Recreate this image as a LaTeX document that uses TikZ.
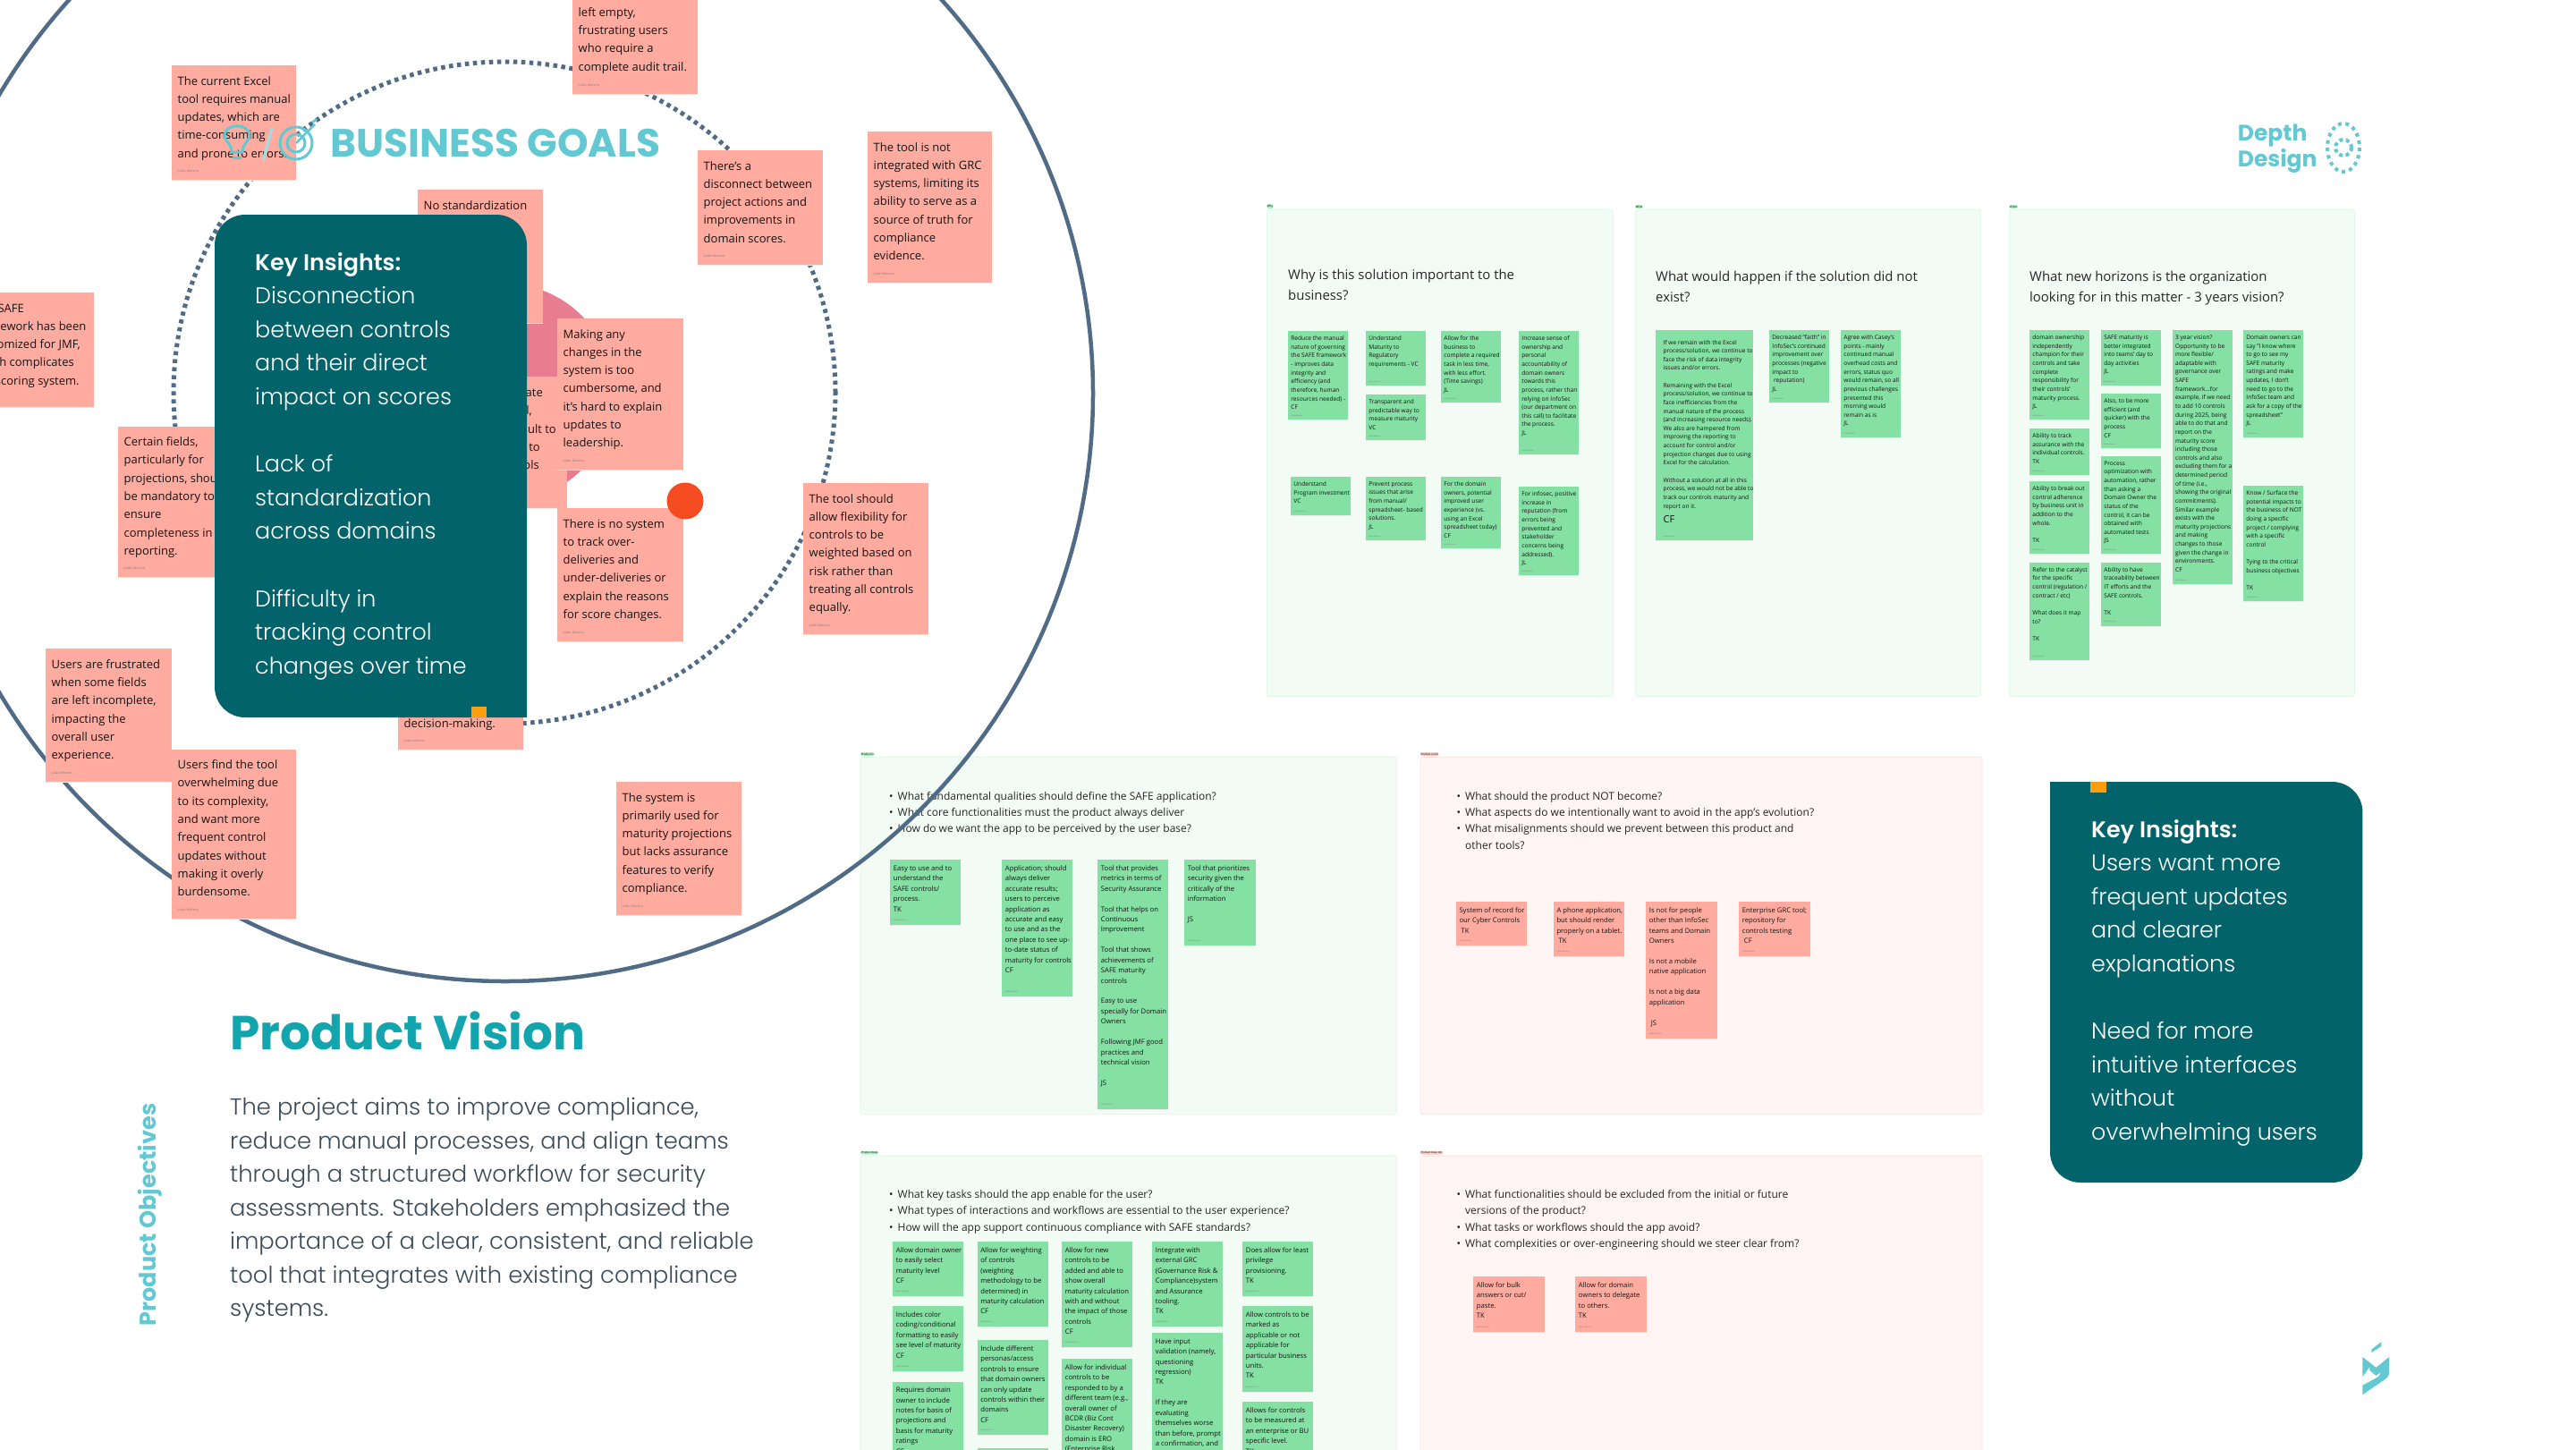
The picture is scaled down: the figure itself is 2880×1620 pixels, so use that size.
\documentclass[tikz,border=0pt]{standalone}
\usepackage{fontspec}
\setmainfont{Open Sans}
\newfontfamily\panelfont{Poppins}[UprightFont=* Light, BoldFont=* SemiBold]
\newfontfamily\headfont{Poppins}[UprightFont=* Medium, BoldFont=* Bold]
\usetikzlibrary{arrows.meta}

\definecolor{noteRed}{HTML}{FFABA0}
\definecolor{noteGreen}{HTML}{85E0A3}
\definecolor{frameGreen}{HTML}{F2FCF5}
\definecolor{edgeGreen}{HTML}{E2F8E8}
\definecolor{tagGreen}{HTML}{A9EFC0}
\definecolor{frameRed}{HTML}{FEF5F4}
\definecolor{edgeRed}{HTML}{FBE6E3}
\definecolor{tagRed}{HTML}{FFC6BF}
\definecolor{panelTeal}{HTML}{02646A}
\definecolor{logoCyan}{HTML}{62C8D2}
\definecolor{visionTeal}{HTML}{12A5AD}
\definecolor{ringBlue}{HTML}{4F6B85}
\definecolor{corePink}{HTML}{E87C91}
\definecolor{dotRed}{HTML}{F44B20}
\definecolor{markOrange}{HTML}{FF9F10}
\definecolor{bodyGrey}{HTML}{3A4A57}

\tikzset{
	frame base/.style = {rectangle, inner sep=0pt, anchor=north west, rounded corners=2pt, line width=0.8pt},
	green frame/.style = {frame base, fill=frameGreen, draw=edgeGreen},
	red frame/.style = {frame base, fill=frameRed, draw=edgeRed},
	tag base/.style = {anchor=south west, inner sep=0.7pt, rounded corners=1.5pt, yshift=1pt, font=\fontsize{3}{3}\selectfont},
	green tag/.style = {tag base, fill=tagGreen},
	red tag/.style = {tag base, fill=tagRed},
	card base/.style = {rectangle, inner sep=0pt, anchor=north west,
		preaction={fill=black!8, transform canvas={yshift=-1.2pt}}},
	red card/.style = {card base, fill=noteRed},
	green card/.style = {card base, fill=noteGreen},
	note base/.style = {anchor=north west, inner sep=0pt, align=left, text=black!92},
	big note/.style = {note base, xshift=6.5pt, yshift=-12pt, font=\fontsize{13}{20.3}\selectfont},
	big sign/.style = {anchor=west, inner sep=0pt, xshift=6.5pt, yshift=9.5pt, text=black!50, font=\fontsize{3.6}{4}\selectfont},
	mid note/.style = {note base, xshift=3.7pt, yshift=-6.3pt, font=\fontsize{7.7}{11.43}\selectfont},
	mid sign/.style = {anchor=west, inner sep=0pt, xshift=3.7pt, yshift=5.3pt, text=black!50, font=\fontsize{2.2}{3}\selectfont},
	top note/.style = {note base, xshift=3.2pt, yshift=-5.4pt, font=\fontsize{6.6}{9.63}\selectfont},
	top sign/.style = {anchor=west, inner sep=0pt, xshift=3.2pt, yshift=4.4pt, text=black!50, font=\fontsize{2}{3}\selectfont},
	wide note/.style = {top note, xshift=5.2pt, yshift=-5.4pt},
	wide sign/.style = {top sign, xshift=5.2pt},
	frame title/.style = {anchor=north west, inner sep=0pt, align=left, text=black!85, font=\fontsize{14.9}{23}\selectfont},
	frame list/.style = {anchor=north west, inner sep=0pt, align=left, text=black!85, font=\fontsize{12}{18.3}\selectfont},
	panel text/.style = {anchor=north west, inner sep=0pt, align=left, text=white, font=\panelfont\fontsize{25.4}{37.6}\selectfont},
}

% style colour, text size, name, left, top, width, height, text
\newcommand{\card}[8]{
	\node [#1 card, minimum width=#6pt, minimum height=#7pt] (#3) at (#4,#5) {};
	\node [#2 note] (#3 text) at (#3.north west) {#8};
	\node [#2 sign] (#3 sign) at (#3.south west) {Julián Moreno};
}
\newcommand{\bl}{\makebox[9.5pt][l]{\textbullet}}
\newcommand{\nb}{\hspace*{9.5pt}}

\begin{document}
\begin{tikzpicture}[x=1pt, y=-1pt]

	\useasboundingbox (0,0) rectangle (2880,1620);
	\clip (0,0) rectangle (2880,1620);
	\fill [white] (0,0) rectangle (2880,1620);

	% top row of frames
	\node [green frame, minimum width=387pt, minimum height=544pt] (why) at (1416,234) {};
	\node [green frame, minimum width=386pt, minimum height=544pt] (what) at (1828,234) {};
	\node [green frame, minimum width=386pt, minimum height=544pt] (vision) at (2246,234) {};
	\node [green tag] (why tag) at (why.north west) {Why};
	\node [green tag] (what tag) at (what.north west) {What};
	\node [green tag] (vision tag) at (vision.north west) {Vision};

	\node [frame title] (why title) at (1440,300.5) {Why is this solution important to the\\business?};
	\node [frame title] (what title) at (1851,303) {What would happen if the solution did not\\exist?};
	\node [frame title] (vision title) at (2269,303) {What new horizons is the organization\\looking for in this matter - 3 years vision?};

	\card{green}{top}{c1}{1440}{370}{67}{99}{Reduce the manual\\nature of governing\\the SAFE framework\\- improves data\\integrity and\\efficiency (and\\therefore, human\\resources needed) -\\CF}
	\card{green}{top}{c2}{1527}{370}{67}{61}{Understand\\Maturity to\\Regulatory\\requirements - VC}
	\card{green}{top}{c3}{1527}{441}{67}{51}{Transparent and\\predictable way to\\measure maturity\\VC}
	\card{green}{top}{c4}{1611}{370}{67}{80}{Allow for the\\business to\\complete a required\\task in less time,\\with less effort.\\(Time savings)\\JL}
	\card{green}{top}{c5}{1698}{370}{67}{138}{Increase sense of\\ownership and\\personal\\accountability of\\domain owners\\towards this\\process, rather than\\relying on InfoSec\\(our department on\\this call) to facilitate\\the process.\\JL}
	\card{green}{top}{c6}{1443}{533}{67}{42.6}{Understand\\Program investment\\VC}
	\card{green}{top}{c7}{1527}{533}{67}{71}{Prevent process\\issues that arise\\from manual/\\spreadsheet- based\\solutions.\\JL}
	\card{green}{top}{c8}{1611}{533}{67}{80}{For the domain\\owners, potential\\improved user\\experience (vs.\\using an Excel\\spreadsheet today)\\CF}
	\card{green}{top}{c9}{1698}{544}{67}{99}{For infosec, positive\\increase in\\reputation (from\\errors being\\prevented and\\stakeholder\\concerns being\\addressed).\\JL}

	\card{green}{wide}{d1}{1851}{369}{109}{235}{If we remain with the Excel\\process/solution, we continue to\\face the risk of data integrity\\issues and/or errors.\\~\\Remaining with the Excel\\process/solution, we continue to\\face inefficiencies from the\\manual nature of the process\\(and increasing resource needs).\\We also are hampered from\\improving the reporting to\\account for control and/or\\projection changes due to using\\Excel for the calculation.\\~\\Without a solution at all in this\\process, we would not be able to\\track our controls maturity and\\report on it.\\[7pt]{\fontsize{11}{13}\selectfont CF}}
	\card{green}{top}{d2}{1978}{369}{67}{81}{Decreased "faith" in\\InfoSec's continued\\improvement over\\processes (negative\\impact to\\~reputation)\\JL}
	\card{green}{top}{d3}{2058}{369}{67}{119.7}{Agree with Casey's\\points - mainly\\continued manual\\overhead costs and\\errors, status quo\\would remain, so all\\previous challenges\\presented this\\morning would\\remain as is\\JL}

	\card{green}{top}{e1}{2269}{369}{67}{100}{domain ownership\\independently\\champion for their\\controls and take\\complete\\responsibility for\\their controls'\\maturity process.\\JL}
	\card{green}{top}{e2}{2269}{479}{67}{51.7}{Ability to track\\assurance with the\\individual controls.\\TK}
	\card{green}{top}{e3}{2269}{538}{67}{81}{Ability to break out\\control adherence\\by business unit in\\addition to the\\whole.\\~\\TK}
	\card{green}{top}{e4}{2269}{628.7}{67}{109.3}{Refer to the catalyst\\for the specific\\control (regulation /\\contract / etc)\\~\\What does it map\\to?\\~\\TK}
	\card{green}{top}{f1}{2349}{369}{67}{61.7}{SAFE maturity is\\better integrated\\into teams' day to\\day activities\\JL}
	\card{green}{top}{f2}{2349}{440}{67}{61}{Also, to be more\\efficient (and\\quicker) with the\\process\\CF}
	\card{green}{top}{f3}{2349}{510}{67}{109}{Process\\optimization with\\automation, rather\\than asking a\\Domain Owner the\\status of the\\control, it can be\\obtained with\\automated tests\\JS}
	\card{green}{top}{f4}{2349}{628.7}{67}{70.6}{Ability to have\\traceability between\\IT efforts and the\\SAFE controls.\\~\\TK}
	\card{green}{top}{g1}{2428.7}{369}{67}{283.7}{3 year vision?\\Opportunity to be\\more flexible/\\adaptable with\\governance over\\SAFE\\framework...for\\example, if we need\\to add 10 controls\\during 2025, being\\able to do that and\\report on the\\maturity score\\including those\\controls and also\\excluding them for a\\determined period\\of time (i.e.,\\showing the original\\commitments).\\Similar example\\exists with the\\maturity projections\\and making\\changes to those\\given the change in\\environments.\\CF}
	\card{green}{top}{h1}{2508}{369}{67}{119.7}{Domain owners can\\say "I know where\\to go to see my\\SAFE maturity\\ratings and make\\updates, I don't\\need to go to the\\InfoSec team and\\ask for a copy of the\\spreadsheet"\\JL}
	\card{green}{top}{h2}{2508}{543}{67}{129}{Know / Surface the\\potential impacts to\\the business of NOT\\doing a specific\\project / complying\\with a specific\\control\\~\\Tying to the critical\\business objectives\\~\\TK}

	% middle row of frames
	\node [green frame, minimum width=599pt, minimum height=399pt] (product is) at (962,846) {};
	\node [red frame, minimum width=628pt, minimum height=399pt] (product not) at (1587.6,846) {};
	\node [green tag] (product is tag) at (product is.north west) {Product is};
	\node [red tag] (product not tag) at (product not.north west) {Product is not};

	\node [frame list] (is list) at (994,885) {\bl What fundamental qualities should define the SAFE application?\\\bl What core functionalities must the product always deliver\\\bl How do we want the app to be perceived by the user base?};
	\node [frame list] (not list) at (1628.5,885) {\bl What should the product NOT become?\\\bl What aspects do we intentionally want to avoid in the app's evolution?\\\bl What misalignments should we prevent between this product and\\\nb other tools?};

	\card{green}{mid}{p1}{995}{961}{79}{72.7}{Easy to use and to\\understand the\\SAFE controls/\\process.\\TK}
	\card{green}{mid}{p2}{1120}{961}{79}{153}{Application; should\\always deliver\\accurate results;\\users to perceive\\application as\\accurate and easy\\to use and as the\\one place to see up-\\to-date status of\\maturity for controls\\CF}
	\card{green}{mid}{p3}{1227}{961}{79}{278.7}{Tool that provides\\metrics in terms of\\Security Assurance\\~\\Tool that helps on\\Continuous\\Improvement\\~\\Tool that shows\\achievements of\\SAFE maturity\\controls\\~\\Easy to use\\specially for Domain\\Owners\\~\\Following JMF good\\practices and\\technical vision\\~\\JS}
	\card{green}{mid}{p4}{1324}{961}{79.5}{95.7}{Tool that prioritizes\\security given the\\critically of the\\information\\~\\JS}

	\card{red}{mid}{q1}{1627.6}{1008}{79.4}{49}{System of record for\\our Cyber Controls\\~TK}
	\card{red}{mid}{q2}{1736.6}{1008}{79.4}{61}{A phone application,\\but should render\\properly on a tablet.\\~TK}
	\card{red}{mid}{q3}{1840}{1008}{79.6}{152.7}{Is not for people\\other than InfoSec\\teams and Domain\\Owners\\~\\Is not a mobile\\native application\\~\\Is not a big data\\application\\~\\~JS}
	\card{red}{mid}{q4}{1944}{1008}{79.6}{61}{Enterprise GRC tool;\\repository for\\controls testing\\~CF}

	% bottom row of frames
	\node [green frame, minimum width=599pt, minimum height=399pt] (product does) at (962,1291.7) {};
	\node [red frame, minimum width=628pt, minimum height=399pt] (product does not) at (1587.6,1291.7) {};
	\node [green tag] (product does tag) at (product does.north west) {Product does};
	\node [red tag] (product does not tag) at (product does not.north west) {Product does not};

	\node [frame list] (does list) at (994,1330) {\bl What key tasks should the app enable for the user?\\\bl What types of interactions and workflows are essential to the user experience?\\\bl How will the app support continuous compliance with SAFE standards?};
	\node [frame list] (does not list) at (1628.5,1330) {\bl What functionalities should be excluded from the initial or future\\\nb versions of the product?\\\bl What tasks or workflows should the app avoid?\\\bl What complexities or over-engineering should we steer clear from?};

	\card{green}{mid}{r1}{998}{1388}{79}{61}{Allow domain owner\\to easily select\\maturity level\\CF}
	\card{green}{mid}{r2}{998}{1460}{79}{73}{Includes color\\coding/conditional\\formatting to easily\\see level of maturity\\CF}
	\card{green}{mid}{r3}{998}{1544.3}{79}{96}{Requires domain\\owner to include\\notes for basis of\\projections and\\basis for maturity\\ratings\\CF}
	\card{green}{mid}{s1}{1092.4}{1388}{79.2}{95}{Allow for weighting\\of controls\\(weighting\\methodology to be\\determined) in\\maturity calculation\\CF}
	\card{green}{mid}{s2}{1092.4}{1498}{79.2}{106}{Include different\\personas/access\\controls to ensure\\that domain owners\\can only update\\controls within their\\domains\\CF}
	\node [green card, minimum width=79.2pt, minimum height=20pt] (s3) at (1092.4,1619) {};
	\card{green}{mid}{t1}{1187}{1388}{79}{118}{Allow for new\\controls to be\\added and able to\\show overall\\maturity calculation\\with and without\\the impact of those\\controls\\CF}
	\card{green}{mid}{t2}{1187}{1519}{79}{130}{Allow for individual\\controls to be\\responded to by a\\different team (e.g.,\\overall owner of\\BCDR (Biz Cont\\Disaster Recovery)\\domain is ERO\\(Enterprise Risk}
	\card{green}{mid}{u1}{1288}{1388}{79}{95}{Integrate with\\external GRC\\(Governance Risk \&\\Compliance)system\\and Assurance\\tooling.\\TK}
	\card{green}{mid}{u2}{1288}{1490}{79}{150}{Have input\\validation (namely,\\questioning\\regression)\\TK\\~\\If they are\\evaluating\\themselves worse\\than before, prompt\\a confirmation, and}
	\card{green}{mid}{v1}{1389}{1388}{79}{61}{Does allow for least\\privilege\\provisioning.\\TK}
	\card{green}{mid}{v2}{1389}{1460}{79}{95.7}{Allow controls to be\\marked as\\applicable or not\\applicable for\\particular business\\units.\\TK}
	\card{green}{mid}{v3}{1389}{1567}{79}{73}{Allows for controls\\to be measured at\\an enterprise or BU\\specific level.\\TK}

	\card{red}{mid}{w1}{1647}{1427}{79.5}{61.7}{Allow for bulk\\answers or cut/\\paste.\\TK}
	\card{red}{mid}{w2}{1761}{1427}{79.5}{61.7}{Allow for domain\\owners to delegate\\to others.\\TK}

	% the rings
	\node [circle, draw=ringBlue, line width=4.5pt, minimum size=1314pt, inner sep=0pt] (outer ring) at (565,440) {};
	\node [circle, draw=ringBlue, line width=5pt, dash pattern=on 4.5pt off 4.5pt, minimum size=740pt, inner sep=0pt] (dotted ring) at (564,439) {};
	\node [circle, fill=corePink, minimum size=244pt, inner sep=0pt] (core) at (564,439) {};

	% notes on the rings
	\card{red}{big}{excel}{192}{73}{139}{128}{The current Excel\\tool requires manual\\updates, which are\\time-consuming\\and prone to errors.}
	\card{red}{big}{audit}{640}{-55}{140}{160}{~\\~\\~\\left empty,\\frustrating users\\who require a\\complete audit trail.}
	\card{red}{big}{disconnect}{780}{168}{140}{127.5}{There's a\\disconnect between\\project actions and\\improvements in\\domain scores.}
	\card{red}{big}{grc}{970}{147}{139}{169}{The tool is not\\integrated with GRC\\systems, limiting its\\ability to serve as a\\source of truth for\\compliance\\evidence.}
	\card{red}{big}{nostd}{467}{212}{140}{149}{No standardization}
	\card{red}{big}{safe}{-35}{327}{140}{128}{The SAFE\\framework has been\\customized for JMF,\\which complicates\\the scoring system.}
	\card{red}{big}{certain}{132}{476.5}{140}{168.5}{Certain fields,\\particularly for\\projections, should\\be mandatory to\\ensure\\completeness in\\reporting.}

	\node [red card, minimum width=140pt, minimum height=147pt] (hidden) at (494,421) {};
	\node [note base, anchor=east, font=\fontsize{13}{20.3}\selectfont] (hidden a) at (607,439) {ate};
	\node [note base, anchor=east, font=\fontsize{13}{20.3}\selectfont] (hidden b) at (595,459.5) {l,};
	\node [note base, anchor=east, font=\fontsize{13}{20.3}\selectfont] (hidden c) at (622,479.6) {ult to};
	\node [note base, anchor=east, font=\fontsize{13}{20.3}\selectfont] (hidden d) at (604,500) {to};
	\node [note base, anchor=east, font=\fontsize{13}{20.3}\selectfont] (hidden e) at (603,520) {ols};

	\card{red}{big}{making}{623}{356}{141}{168.5}{Making any\\changes in the\\system is too\\cumbersome, and\\it's hard to explain\\updates to\\leadership.}
	\card{red}{big}{notrack}{623}{568}{141}{149}{There is no system\\to track over-\\deliveries and\\under-deliveries or\\explain the reasons\\for score changes.}
	\node [circle, fill=dotRed, minimum size=41pt, inner sep=0pt] (red dot) at (766,560) {};
	\card{red}{big}{flex}{898}{540}{140}{168.5}{The tool should\\allow flexibility for\\controls to be\\weighted based on\\risk rather than\\treating all controls\\equally.}
	\card{red}{big}{decision}{445}{700}{140}{137.5}{~\\~\\~\\~\\~\\decision-making.}
	\card{red}{big}{frustrated}{51}{725}{141}{148.7}{Users are frustrated\\when some fields\\are left incomplete,\\impacting the\\overall user\\experience.}
	\card{red}{big}{overwhelm}{192}{837.5}{139}{189}{Users find the tool\\overwhelming due\\to its complexity,\\and want more\\frequent control\\updates without\\making it overly\\burdensome.}
	\card{red}{big}{assurance}{689}{874}{139.5}{149}{The system is\\primarily used for\\maturity projections\\but lacks assurance\\features to verify\\compliance.}

	% left panel
	\fill [panelTeal] (589,802) [rounded corners=34pt] -- (589,240) -- (240,240) -- (240,802) [sharp corners] -- (589,802) -- cycle;
	\fill [markOrange] (527,790) rectangle (544,802);
	\node [panel text] (left insights) at (285,282) {\textbf{Key Insights:}\\Disconnection\\between controls\\and their direct\\impact on scores\\~\\Lack of\\standardization\\across domains\\~\\Difficulty in\\tracking control\\changes over time};

	% title and icons
	\node [anchor=west, inner sep=0pt, text=logoCyan, font=\headfont\bfseries\fontsize{44}{44}\selectfont] (goals title) at (369,160) {BUSINESS GOALS};
	\draw [logoCyan, line width=3pt] (259,170) .. controls (259,160) and (251,158) .. (251,152) .. controls (251,137) and (279,137) .. (279,152) .. controls (279,158) and (271,160) .. (271,170) -- cycle;
	\draw [logoCyan, line width=3pt] (260,176) -- (270,176);
	\draw [logoCyan!60, line width=3pt] (304,143) -- (294,180);
	\draw [logoCyan, line width=3pt] (331,160) circle (18);
	\draw [logoCyan, line width=3pt] (331,160) circle (10);
	\draw [logoCyan, line width=2.5pt] (331,160) -- (352,139);
	\draw [logoCyan, line width=2.5pt] (349,137) -- (354,133);

	% product vision
	\node [anchor=west, inner sep=0pt, text=visionTeal, font=\headfont\bfseries\fontsize{53.3}{53}\selectfont] (vision head) at (257,1152) {Product Vision};
	\node [anchor=north west, inner sep=0pt, align=left, text=bodyGrey, font=\panelfont\fontsize{25.8}{37.5}\selectfont] (vision body) at (257,1227) {The project aims to improve compliance,\\reduce manual processes, and align teams\\through a structured workflow for security\\assessments. Stakeholders emphasized the\\importance of a clear, consistent, and reliable\\tool that integrates with existing compliance\\systems.};
	\node [rotate=90, inner sep=0pt, text=logoCyan, font=\headfont\bfseries\fontsize{25.5}{26}\selectfont] (objectives) at (168,1358) {Product Objectives};

	% right panel
	\fill [panelTeal] (2292,874) [rounded corners=34pt] -- (2641.4,874) -- (2641.4,1322) -- (2292,1322) [sharp corners] -- (2292,874) -- cycle;
	\fill [markOrange] (2337,874) rectangle (2355,886);
	\node [panel text] (right insights) at (2338,916) {\textbf{Key Insights:}\\Users want more\\frequent updates\\and clearer\\explanations\\~\\Need for more\\intuitive interfaces\\without\\overwhelming users};

	% logos
	\node [anchor=west, inner sep=0pt, align=left, text=logoCyan, font=\headfont\bfseries\fontsize{25}{29}\selectfont] (depth design) at (2501.6,166.5) {Depth\\Design};
	\draw [logoCyan, line width=4pt, dash pattern=on 4pt off 4.4pt] (2620,165) ellipse (18 and 27);
	\draw [logoCyan, line width=4pt, dash pattern=on 4pt off 3.5pt] (2620,165) circle (9);
	\fill [logoCyan] (2651.3,1512) -- (2662.4,1505) -- (2662.4,1500) -- (2651.3,1508.6) -- cycle;
	\fill [logoCyan] (2641.4,1517) -- (2656.4,1528.9) -- (2671,1517) -- (2671,1534.5) .. controls (2671,1539) and (2668,1541) .. (2665,1543) -- (2641.4,1559) -- (2641.4,1548.7) -- (2659.2,1539) -- (2662.4,1533.6) -- (2656.4,1537.8) -- (2649.3,1532) -- (2649.3,1528) -- (2641.4,1539) -- cycle;

\end{tikzpicture}
\end{document}
